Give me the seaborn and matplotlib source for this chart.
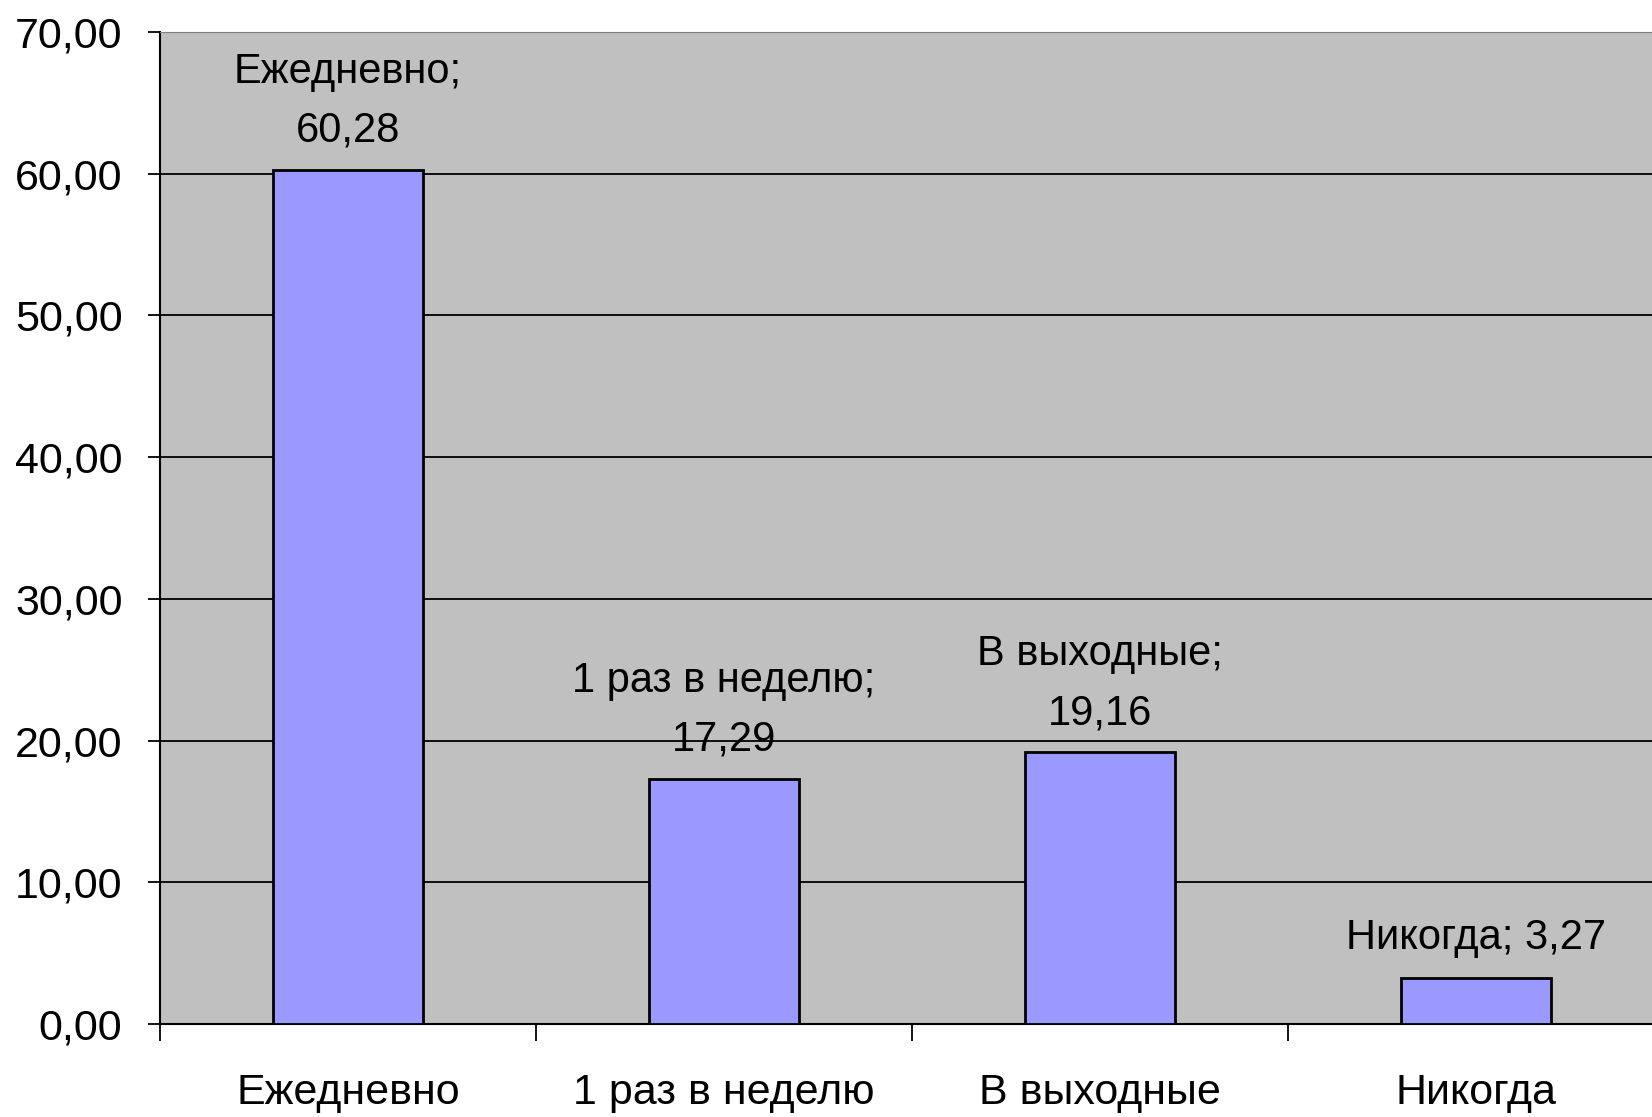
import matplotlib
matplotlib.use("Agg")
from matplotlib import pyplot as plt
from matplotlib.ticker import FuncFormatter, FixedLocator
import pandas as pd
import seaborn as sns

categories = ["Ежедневно", "1 раз в неделю", "В выходные", "Никогда"]
values = [60.28, 17.29, 19.16, 3.27]
label_texts = ["Ежедневно;\n60,28", "1 раз в неделю;\n17,29", "В выходные;\n19,16", "Никогда; 3,27"]

sns.set_style("white")
plt.rcParams["font.family"] = ["Liberation Sans", "DejaVu Sans"]
plt.rcParams["font.size"] = 31
plt.rcParams["text.color"] = "black"
plt.rcParams["xtick.color"] = "black"
plt.rcParams["ytick.color"] = "black"

df = pd.DataFrame({"category": categories, "value": values})

fig = plt.figure(figsize=(16.52, 11.17), dpi=100)
ax = fig.add_axes([160 / 1652, 1 - 1024 / 1117, 1504 / 1652, 992 / 1117])
ax.set_facecolor("#C0C0C0")

sns.barplot(data=df, x="category", y="value", color="#9999FF", saturation=1,
            edgecolor="black", linewidth=2, width=0.4, ax=ax, zorder=3)

ax.set_ylim(0, 70)
ax.set_xlim(-0.5, 3.5)
ax.set_yticks(range(0, 71, 10))
ax.yaxis.set_major_formatter(FuncFormatter(lambda v, _: f"{v:.2f}".replace(".", ",")))
ax.grid(axis="y", color="black", linewidth=1.3, zorder=0)
ax.set_axisbelow(True)

# category ticks between bars, labels centred under bars
ax.xaxis.set_major_locator(FixedLocator([-0.5, 0.5, 1.5, 2.5, 3.5]))
ax.xaxis.set_minor_locator(FixedLocator(range(len(categories))))
ax.set_xticklabels([], minor=False)
ax.set_xticklabels(categories, minor=True)
ax.tick_params(axis="x", which="major", bottom=True, length=12, width=1.3,
               color="black", direction="out")
ax.tick_params(axis="x", which="minor", bottom=True, length=0, pad=35,
               labelsize=31, labelcolor="black")
ax.tick_params(axis="y", left=True, length=9, width=1.3, color="black",
               direction="out", pad=18, labelsize=31, labelcolor="black")

ax.set_xlabel("")
ax.set_ylabel("")
for side in ["left", "bottom"]:
    ax.spines[side].set_color("black")
    ax.spines[side].set_linewidth(1.5)
ax.spines["top"].set_color("#808080")
ax.spines["right"].set_visible(False)

for i, (v, t) in enumerate(zip(values, label_texts)):
    ax.annotate(t, xy=(i, v), xytext=(0, 14), textcoords="offset points",
                ha="center", va="bottom", fontsize=30, linespacing=1.6,
                color="black")

fig.savefig("out.png", dpi=100)
